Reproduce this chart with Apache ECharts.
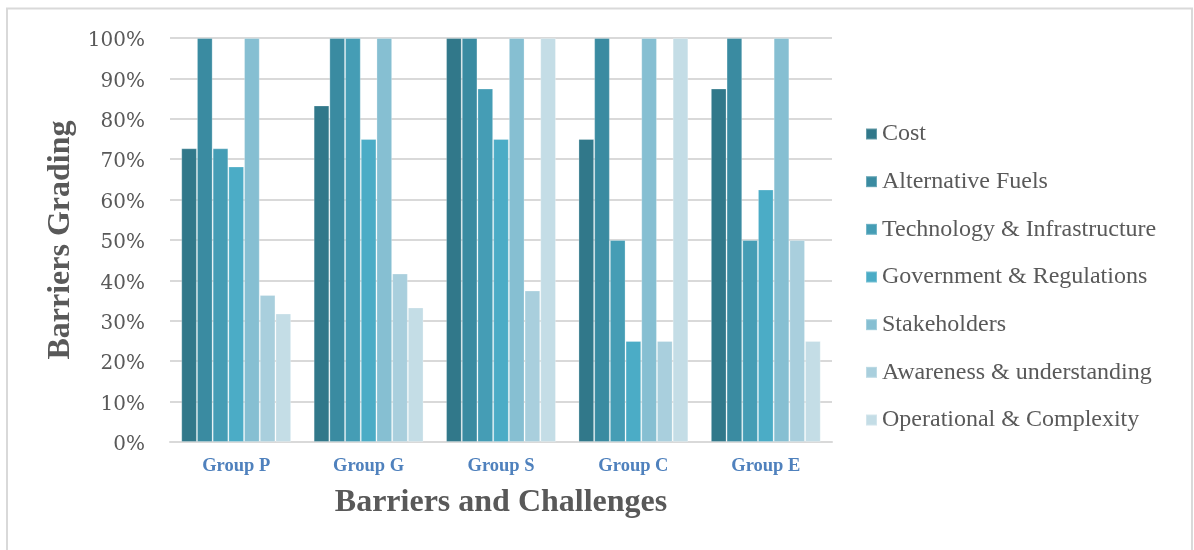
<!DOCTYPE html>
<html>
<head>
<meta charset="utf-8">
<script src="https://cdn.jsdelivr.net/npm/echarts@6/dist/echarts.min.js"></script>
<style>
html,body{margin:0;padding:0;background:#fff;}
#chart{width:1194px;height:550px;}
</style>
</head>
<body>
<div id="chart"></div>
<script>
const categories = ['Group P', 'Group G', 'Group S', 'Group C', 'Group E'];
const seriesNames = ['Cost', 'Alternative Fuels', 'Technology & Infrastructure', 'Government & Regulations', 'Stakeholders', 'Awareness & understanding', 'Operational & Complexity'];
const cost = [72.7, 83.3, 100, 75, 87.5];
const alternativeFuels = [100, 100, 100, 100, 100];
const technology = [72.7, 100, 87.5, 50, 50];
const government = [68.2, 75, 75, 25, 62.5];
const stakeholders = [100, 100, 100, 100, 100];
const awareness = [36.4, 41.7, 37.5, 25, 50];
const operational = [31.8, 33.3, 100, 100, 25];
const yTicks = [0, 10, 20, 30, 40, 50, 60, 70, 80, 90, 100];
const colors = ['#31788A', '#3A8BA1', '#459DB5', '#4BACC6', '#86BFD2', '#A9CFDD', '#C4DDE6'];

const allValues = [cost, alternativeFuels, technology, government, stakeholders, awareness, operational];

const chart = echarts.init(document.getElementById('chart'), null, {renderer: 'canvas'});
chart.setOption({
  animation: false,
  color: colors,
  graphic: [{
    type: 'rect',
    shape: {x: 7, y: 8.5, width: 1185, height: 600},
    style: {fill: 'none', stroke: '#D9D9D9', lineWidth: 2},
    silent: true
  }],
  grid: {left: 170, right: 362, top: 38, bottom: 108},
  legend: {
    orient: 'vertical',
    left: 865,
    top: 122,
    padding: 0,
    icon: 'rect',
    itemWidth: 11,
    itemHeight: 11,
    itemGap: 23.67,
    data: seriesNames,
    textStyle: {fontFamily: 'Liberation Serif', fontSize: 24, color: '#595959', lineHeight: 24}
  },
  xAxis: {
    type: 'category',
    data: categories,
    name: 'Barriers and Challenges',
    nameLocation: 'middle',
    nameGap: 45,
    nameTextStyle: {fontFamily: 'Liberation Serif', fontWeight: 'bold', fontSize: 32, color: '#595959'},
    axisLine: {lineStyle: {color: '#D9D9D9', width: 2}},
    axisTick: {show: false},
    axisLabel: {fontFamily: 'Liberation Serif', fontWeight: 'bold', fontSize: 18.5, color: '#4F81BD', margin: 15}
  },
  yAxis: {
    type: 'value',
    min: 0,
    max: 100,
    interval: 10,
    name: 'Barriers Grading',
    nameLocation: 'middle',
    nameGap: 93,
    nameTextStyle: {fontFamily: 'Liberation Serif', fontWeight: 'bold', fontSize: 32, color: '#595959'},
    axisLine: {show: false},
    axisTick: {show: false},
    axisLabel: {fontFamily: 'DejaVu Serif', fontSize: 20, color: '#595959', margin: 25, lineHeight: 24, verticalAlign: 'top', padding: [-9, 0, 0, 0], formatter: '{value}%'},
    splitLine: {lineStyle: {color: '#D9D9D9', width: 2}}
  },
  series: seriesNames.map((name, i) => ({
    name: name,
    type: 'bar',
    data: allValues[i],
    barGap: '0%',
    barCategoryGap: '17%',
    itemStyle: {color: colors[i], borderColor: 'rgba(255,255,255,0.25)', borderWidth: 1}
  }))
});
</script>
</body>
</html>
